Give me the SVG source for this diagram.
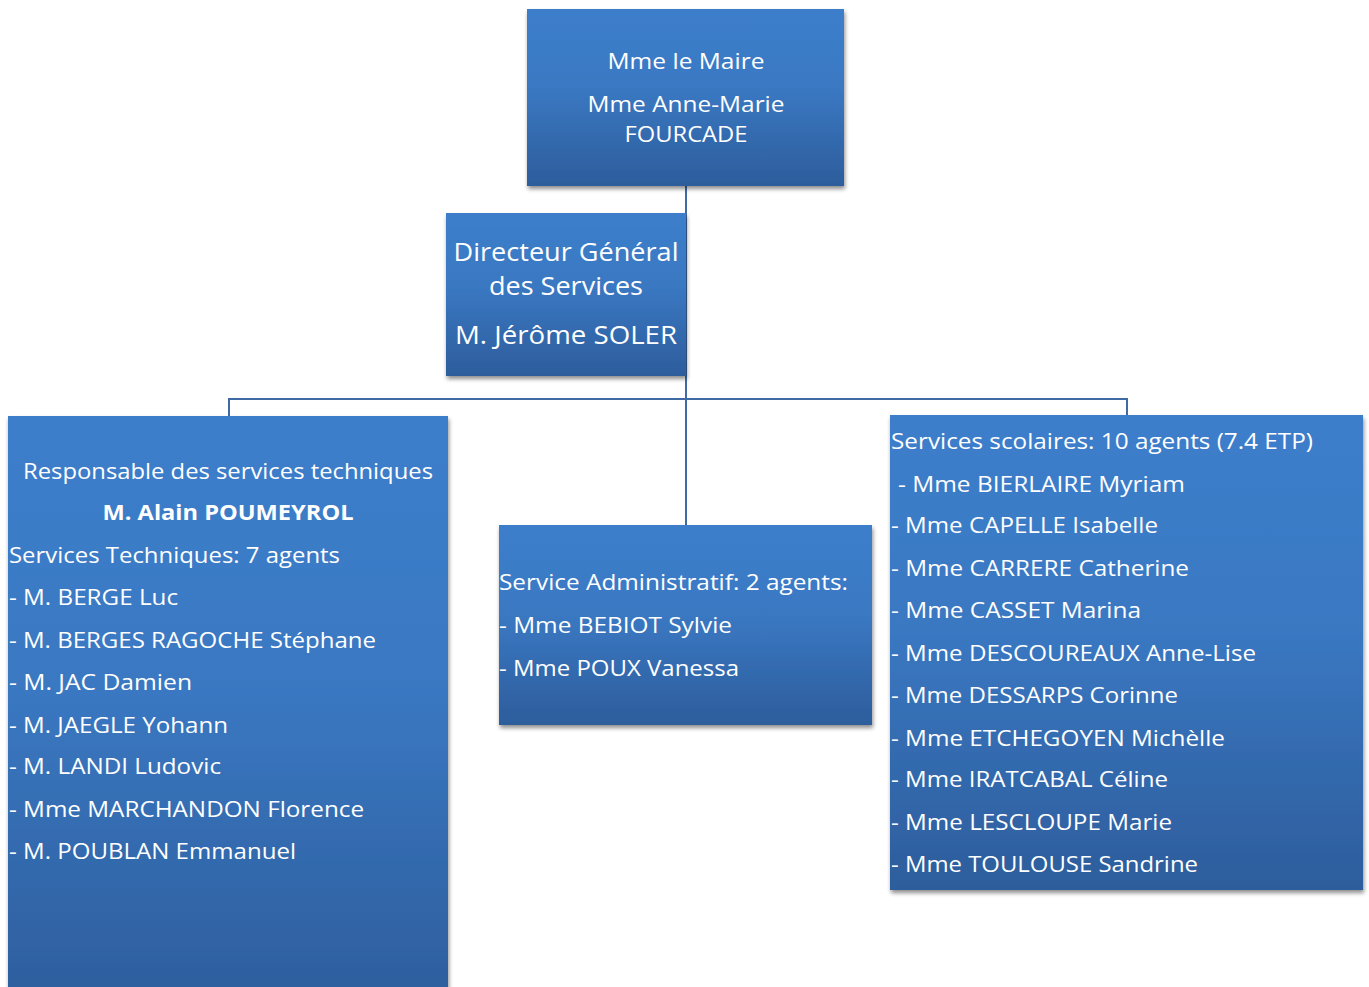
<svg xmlns="http://www.w3.org/2000/svg" width="1369" height="987" viewBox="0 0 1369 987">
<defs>
<linearGradient id="g" x1="0" y1="0" x2="0" y2="1">
<stop offset="0" stop-color="#3c7ecb"/>
<stop offset="0.45" stop-color="#3a78c2"/>
<stop offset="1" stop-color="#2d5d9c"/>
</linearGradient>
<filter id="sh" x="-5%" y="-5%" width="110%" height="115%">
<feGaussianBlur in="SourceAlpha" stdDeviation="2"/>
<feOffset dx="1" dy="3" result="b"/>
<feComponentTransfer><feFuncA type="linear" slope="0.45"/></feComponentTransfer>
<feMerge><feMergeNode/><feMergeNode in="SourceGraphic"/></feMerge>
</filter>
</defs>
<style>
.box{fill:url(#g);filter:url(#sh)}
text{font-family:"Open Sans","Liberation Sans",sans-serif;fill:#ffffff;font-size:22px}
.c{text-anchor:middle}
.big{font-size:26px}
.b{font-weight:bold}
.ln{stroke:#3f6aa3;stroke-width:2;fill:none}
</style>
<rect width="1369" height="987" fill="#ffffff"/>
<g id="connectors">
<path class="ln" d="M686 186 V525"/>
<path class="ln" d="M229 416 V399 H1127 V415"/>
</g>
<g id="maire">
<rect class="box" x="527" y="9" width="317" height="177"/>
<text class="c" x="686" y="69" textLength="157" lengthAdjust="spacingAndGlyphs">Mme le Maire</text>
<text class="c" x="686" y="112" textLength="197" lengthAdjust="spacingAndGlyphs">Mme Anne-Marie</text>
<text class="c" x="686" y="142" textLength="123" lengthAdjust="spacingAndGlyphs">FOURCADE</text>
</g>
<g id="dgs">
<rect class="box" x="446" y="213" width="240" height="163"/>
<text class="c big" x="566" y="261" textLength="225" lengthAdjust="spacingAndGlyphs">Directeur Général</text>
<text class="c big" x="566" y="295" textLength="154" lengthAdjust="spacingAndGlyphs">des Services</text>
<text class="c big" x="566" y="344" textLength="222" lengthAdjust="spacingAndGlyphs">M. Jérôme SOLER</text>
</g>
<g id="techniques">
<rect class="box" x="8" y="416" width="440" height="600"/>
<text class="c" x="228" y="479" textLength="410" lengthAdjust="spacingAndGlyphs">Responsable des services techniques</text>
<text class="c b" x="228" y="520" textLength="251" lengthAdjust="spacingAndGlyphs">M. Alain POUMEYROL</text>
<text x="9" y="563" textLength="331" lengthAdjust="spacingAndGlyphs">Services Techniques: 7 agents</text>
<text x="9" y="605" textLength="169" lengthAdjust="spacingAndGlyphs">- M. BERGE Luc</text>
<text x="9" y="648" textLength="367" lengthAdjust="spacingAndGlyphs">- M. BERGES RAGOCHE Stéphane</text>
<text x="9" y="690" textLength="183" lengthAdjust="spacingAndGlyphs">- M. JAC Damien</text>
<text x="9" y="733" textLength="219" lengthAdjust="spacingAndGlyphs">- M. JAEGLE Yohann</text>
<text x="9" y="774" textLength="212" lengthAdjust="spacingAndGlyphs">- M. LANDI Ludovic</text>
<text x="9" y="817" textLength="355" lengthAdjust="spacingAndGlyphs">- Mme MARCHANDON Florence</text>
<text x="9" y="859" textLength="287" lengthAdjust="spacingAndGlyphs">- M. POUBLAN Emmanuel</text>
</g>
<g id="administratif">
<rect class="box" x="499" y="525" width="373" height="200"/>
<text x="499" y="590" textLength="349" lengthAdjust="spacingAndGlyphs">Service Administratif: 2 agents:</text>
<text x="499" y="633" textLength="233" lengthAdjust="spacingAndGlyphs">- Mme BEBIOT Sylvie</text>
<text x="499" y="676" textLength="240" lengthAdjust="spacingAndGlyphs">- Mme POUX Vanessa</text>
</g>
<g id="scolaires">
<rect class="box" x="890" y="415" width="473" height="475"/>
<text x="891" y="449" textLength="422" lengthAdjust="spacingAndGlyphs">Services scolaires: 10 agents (7.4 ETP)</text>
<text x="898" y="492" textLength="287" lengthAdjust="spacingAndGlyphs">- Mme BIERLAIRE Myriam</text>
<text x="891" y="533" textLength="267" lengthAdjust="spacingAndGlyphs">- Mme CAPELLE Isabelle</text>
<text x="891" y="576" textLength="298" lengthAdjust="spacingAndGlyphs">- Mme CARRERE Catherine</text>
<text x="891" y="618" textLength="250" lengthAdjust="spacingAndGlyphs">- Mme CASSET Marina</text>
<text x="891" y="661" textLength="365" lengthAdjust="spacingAndGlyphs">- Mme DESCOUREAUX Anne-Lise</text>
<text x="891" y="703" textLength="287" lengthAdjust="spacingAndGlyphs">- Mme DESSARPS Corinne</text>
<text x="891" y="746" textLength="334" lengthAdjust="spacingAndGlyphs">- Mme ETCHEGOYEN Michèlle</text>
<text x="891" y="787" textLength="277" lengthAdjust="spacingAndGlyphs">- Mme IRATCABAL Céline</text>
<text x="891" y="830" textLength="281" lengthAdjust="spacingAndGlyphs">- Mme LESCLOUPE Marie</text>
<text x="891" y="872" textLength="307" lengthAdjust="spacingAndGlyphs">- Mme TOULOUSE Sandrine</text>
</g>
</svg>
